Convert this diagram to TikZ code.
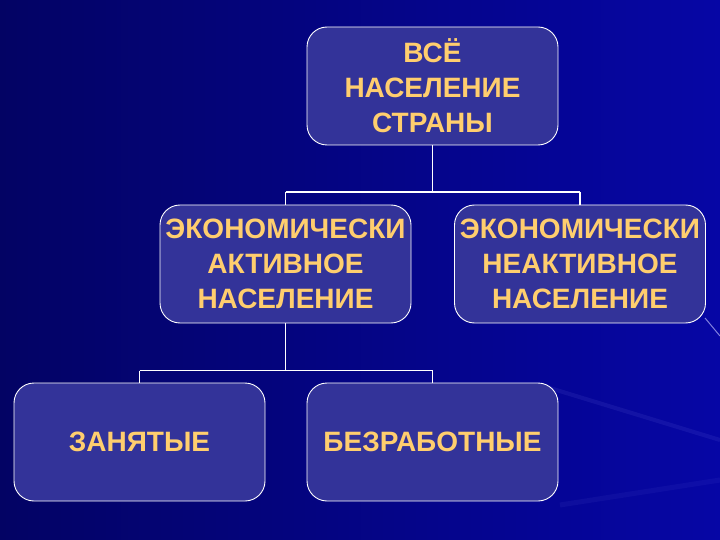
\documentclass[tikz,border=0pt]{standalone}
\usepackage{fontspec}
\setmainfont{Liberation Sans}
\definecolor{boxfill}{RGB}{51,51,153}
\definecolor{txtcol}{RGB}{255,206,110}
\definecolor{bgdark}{RGB}{3,3,100}
\definecolor{bglight}{RGB}{6,6,165}
\definecolor{streak}{RGB}{120,120,230}
\tikzset{
  box/.style={draw=white, line width=0.9pt, fill=boxfill, rounded corners=20pt,
    minimum width=251pt, minimum height=118pt, inner sep=0pt},
  label/.style={text=txtcol, align=center, font=\bfseries\fontsize{28}{35}\selectfont, inner sep=0pt},
  conn/.style={draw=white, line width=1.6pt},
}
\begin{document}
\begin{tikzpicture}[x=1pt,y=-1pt]
\useasboundingbox (0,0) rectangle (720,540);
\shade[shading angle=-45, left color=bgdark, right color=bglight] (0,0) rectangle (720,540);
\draw[streak, line width=4pt, opacity=0.12] (540,385) -- (720,440);
\draw[streak, line width=5pt, opacity=0.08] (560,505) -- (720,480);
\draw[streak!70!white, line width=1pt, opacity=0.8] (705,318) -- (720,336);

\node[box] (all) at (432.5,86) {};
\node[box] (act) at (285.5,264) {};
\node[box] (inact) at (580,264) {};
\node[box] (emp) at (139.5,442) {};
\node[box] (unemp) at (432.5,442) {};

\coordinate (j1) at (432.5,192);
\coordinate (j2) at (285.5,370.5);
\draw[conn] (all.south) -- (j1);
\draw[conn] (act.north |- j1) -- (inact.north |- j1);
\draw[conn] (act.north |- j1) -- (act.north);
\draw[conn] (inact.north |- j1) -- (inact.north);
\draw[conn] (act.south) -- (j2);
\draw[conn] (emp.north |- j2) -- (unemp.north |- j2);
\draw[conn] (emp.north |- j2) -- (emp.north);
\draw[conn] (unemp.north |- j2) -- (unemp.north);

\node[label] (tall) at (all.center) {ВСЁ\\НАСЕЛЕНИЕ\\СТРАНЫ};
\node[label] (tact) at (act.center) {ЭКОНОМИЧЕСКИ\\АКТИВНОЕ\\НАСЕЛЕНИЕ};
\node[label] (tinact) at (inact.center) {ЭКОНОМИЧЕСКИ\\НЕАКТИВНОЕ\\НАСЕЛЕНИЕ};
\node[label] (temp) at (emp.center) {ЗАНЯТЫЕ};
\node[label] (tunemp) at (unemp.center) {БЕЗРАБОТНЫЕ};
\end{tikzpicture}
\end{document}
